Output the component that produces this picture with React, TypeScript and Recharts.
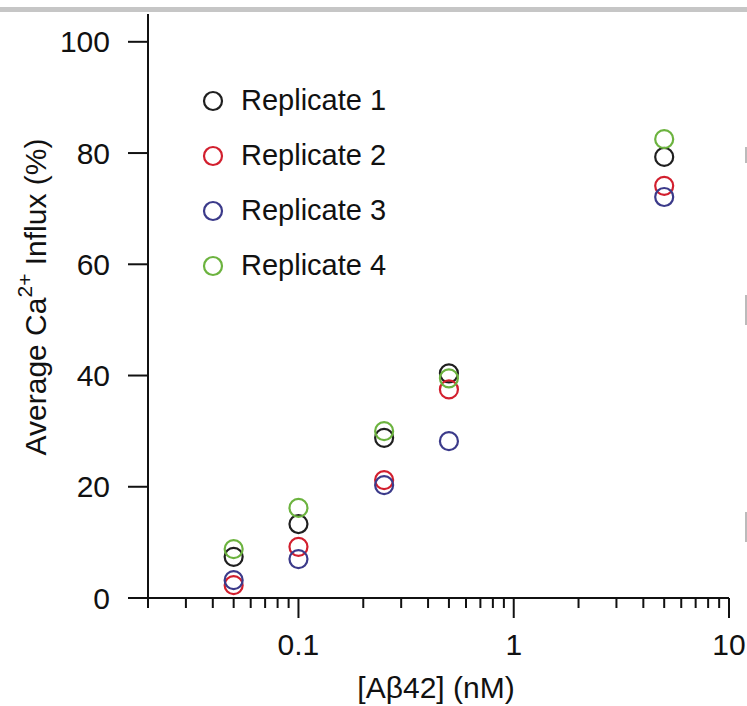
import { ScatterChart, Scatter, XAxis, YAxis, Legend } from "recharts";

// concentrations (nM) and replicate responses (%)
const conc = [0.05, 0.1, 0.25, 0.5, 5];
const rep1 = [7.4, 13.3, 28.8, 40.4, 79.3];
const rep2 = [2.3, 9.2, 21.2, 37.5, 74.1];
const rep3 = [3.2, 7.0, 20.3, 28.2, 72.1];
const rep4 = [8.8, 16.2, 30.0, 39.5, 82.5];

const names = ["Replicate 1", "Replicate 2", "Replicate 3", "Replicate 4"];
const colors = ["#1f1f1f", "#d21f2e", "#3b3a8a", "#6cb33f"];

const xTicks = [
  0.02, 0.03, 0.04, 0.05, 0.06, 0.07, 0.08, 0.09,
  0.1, 0.2, 0.3, 0.4, 0.5, 0.6, 0.7, 0.8, 0.9,
  1, 2, 3, 4, 5, 6, 7, 8, 9, 10,
];
const majorTicks = [0.1, 1, 10];
const yTicks = [0, 20, 40, 60, 80, 100];

const FONT = "'Liberation Sans', Arial, sans-serif";
const INK = "#111";

const series = [rep1, rep2, rep3, rep4].map((vals) =>
  conc.map((c, i) => ({ x: c, y: vals[i] }))
);

function Ring(props: any) {
  const { cx, cy, fill } = props;
  return <circle cx={cx} cy={cy} r={9} fill="none" stroke={fill} strokeWidth={2.2} />;
}

function XTick(props: any) {
  const { x, y, payload } = props;
  const major = majorTicks.includes(payload.value);
  return (
    <g>
      <line x1={x} x2={x} y1={y} y2={y + (major ? 20 : 10)} stroke={INK} strokeWidth={2} />
      {major && (
        <text x={x} y={y + 57} textAnchor="middle" fontSize={30} fontFamily={FONT} fill={INK}>
          {payload.value}
        </text>
      )}
    </g>
  );
}

function XTitle(props: any) {
  const { viewBox } = props;
  return (
    <text x={viewBox.x + 288} y={viewBox.y + 100} textAnchor="middle" fontSize={30} fontFamily={FONT} fill={INK}>
      [Aβ42] (nM)
    </text>
  );
}

function YTitle() {
  const x = 35;
  const y = 297;
  return (
    <text
      x={x}
      y={y}
      transform={`rotate(-90, ${x}, ${y})`}
      textAnchor="middle"
      dominantBaseline="central"
      fontSize={30}
      fontFamily={FONT}
      fill={INK}
    >
      Average Ca
      <tspan dy={-11} fontSize={21}>2+</tspan>
      <tspan dy={11}> Influx (%)</tspan>
    </text>
  );
}

function LegendBox() {
  return (
    <div style={{ fontFamily: FONT, fontSize: 29, color: INK }}>
      {names.map((n, i) => (
        <div key={n} style={{ display: "flex", alignItems: "center", height: 55 }}>
          <svg width={24} height={24} style={{ marginRight: 16 }}>
            <circle cx={12} cy={12} r={9} fill="none" stroke={colors[i]} strokeWidth={2.2} />
          </svg>
          <span>{n}</span>
        </div>
      ))}
    </div>
  );
}

export default function App() {
  return (
    <div style={{ position: "absolute", left: 0, top: 0, width: 747, height: 706, background: "#fff" }}>
      <div style={{ position: "absolute", left: 0, top: 7, width: 747, height: 5, background: "#c6c6c6" }} />
      <div style={{ position: "absolute", left: 745, top: 147, width: 2, height: 16, background: "#bbb" }} />
      <div style={{ position: "absolute", left: 745, top: 295, width: 2, height: 30, background: "#bbb" }} />
      <div style={{ position: "absolute", left: 745, top: 512, width: 2, height: 30, background: "#bbb" }} />
      <ScatterChart width={747} height={706} margin={{ top: 14, right: 18, bottom: 0, left: 0 }}>
        <XAxis
          type="number"
          dataKey="x"
          scale="log"
          domain={[0.02, 10]}
          ticks={xTicks}
          allowDataOverflow
          height={108}
          axisLine={{ stroke: INK, strokeWidth: 2 }}
          tickLine={false}
          tickSize={0}
          tickMargin={0}
          tick={<XTick />}
          interval={0}
          label={{ content: (p: any) => <XTitle {...p} /> }}
        />
        <YAxis
          type="number"
          dataKey="y"
          domain={[0, 105]}
          ticks={yTicks}
          width={148}
          axisLine={{ stroke: INK, strokeWidth: 2 }}
          tickLine={{ stroke: INK, strokeWidth: 2 }}
          tickSize={20}
          tickMargin={18}
          tick={{ fontSize: 30, fontFamily: FONT, fill: INK }}
          label={{ content: () => <YTitle /> }}
        />
        <Legend
          layout="vertical"
          align="center"
          verticalAlign="middle"
          content={() => <LegendBox />}
          wrapperStyle={{ left: 201, top: 73, width: 240 }}
        />
        {series.map((d, i) => (
          <Scatter
            key={names[i]}
            name={names[i]}
            data={d}
            fill={colors[i]}
            shape={<Ring />}
            isAnimationActive={false}
          />
        ))}
      </ScatterChart>
    </div>
  );
}
